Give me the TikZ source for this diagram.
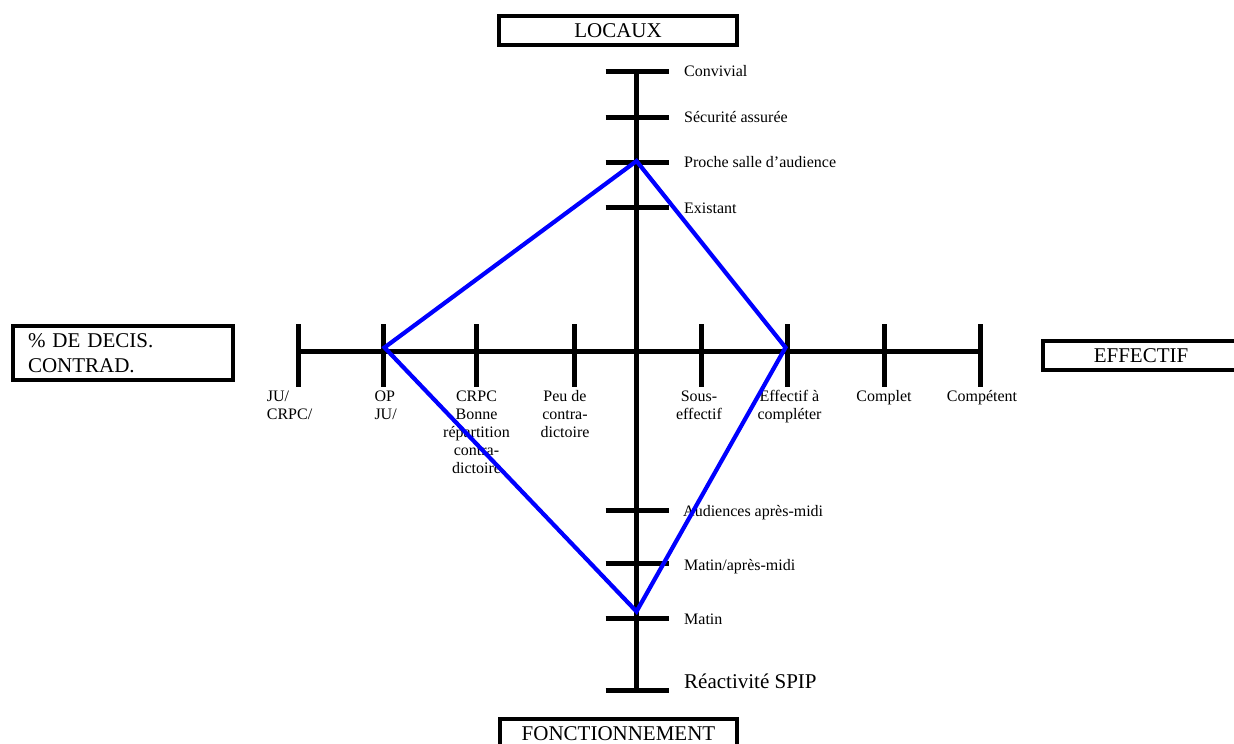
\documentclass[tikz,border=0pt]{standalone}
\usepackage{fontspec}
\setmainfont{Liberation Serif}
\newcommand\lblfont{\fontsize{16}{17.8}\selectfont}
\newcommand\bigfont{\fontsize{21}{25.6}\selectfont}
\begin{document}
\begin{tikzpicture}[x=1pt,y=-1pt,
  axis/.style={line width=5pt},
  tick/.style={line width=5pt},
  profile/.style={draw={rgb,255:red,0;green,0;blue,255},line width=4.2pt,line join=miter},
  titlebox/.style={draw,line width=4pt,inner sep=0pt,font=\bigfont},
  hlbl/.style={anchor=north,inner sep=0pt,align=center,font=\lblfont},
  hlbll/.style={anchor=north west,inner sep=0pt,align=left,font=\lblfont},
  vlbl/.style={anchor=base west,inner sep=0pt,font=\lblfont},
]
\useasboundingbox (0,0) rectangle (1234,744);
\clip (0,0) rectangle (1234,744);

% axes
\coordinate (vtop) at (636.5,71);
\coordinate (vbot) at (636.5,690);
\coordinate (hl) at (298.3,351.7);
\coordinate (hr) at (980.5,351.7);
\draw[axis] (vtop) -- (vbot);
\draw[axis] (hl) -- (hr);

% ticks on vertical axis
\foreach \n/\y in {t1/71,t2/117,t3/162,t4/207,b1/510,b2/563,b3/618,b4/690}{
  \coordinate (\n l) at (605.5,\y);
  \coordinate (\n r) at (668.5,\y);
  \draw[tick] (\n l) -- (\n r);
}
% ticks on horizontal axis
\foreach \n/\x in {h1/298.3,h2/383.3,h3/476.7,h4/574,h5/701.7,h6/787.7,h7/884,h8/980.5}{
  \coordinate (\n u) at (\x,324);
  \coordinate (\n d) at (\x,387);
  \draw[tick] (\n u) -- (\n d);
}

% vertical labels
\node[vlbl] (conv) at (684,76) {Convivial};
\node[vlbl] (secu) at (684,122) {Sécurité assurée};
\node[vlbl] (proc) at (684,167) {Proche salle d’audience};
\node[vlbl] (exis) at (684,213) {Existant};
\node[vlbl] (aud) at (683,516) {Audiences après-midi};
\node[vlbl] (mam) at (684,570) {Matin/après-midi};
\node[vlbl] (mat) at (684,624) {Matin};
\node[vlbl,font=\bigfont] (spip) at (684,688) {Réactivité SPIP};

% horizontal labels
\node[hlbll] (ju) at (266.7,389.2) {\strut JU/\\CRPC/};
\node[hlbll] (op) at (374.3,389.2) {\strut OP\\JU/};
\node[hlbl] (crpc) at (476.5,389.2) {\strut CRPC\\Bonne\\répartition\\contra-\\dictoire};
\node[hlbl] (peu) at (565,389.2) {\strut Peu de\\contra-\\dictoire};
\node[hlbl] (sous) at (699,389.2) {\strut Sous-\\effectif};
\node[hlbl] (effc) at (789.5,389.2) {\strut Effectif à\\compléter};
\node[hlbl] (comp) at (884,389.2) {\strut Complet};
\node[hlbl] (compt) at (982,389.2) {\strut Compétent};

% title boxes
\node[titlebox,minimum width=238pt,minimum height=29pt] (locaux) at (618,30.5) {LOCAUX};
\node[titlebox,minimum width=220pt,minimum height=54pt,text width=190pt,inner xsep=15pt,align=left] (pct) at (123,353) {\% DE DECIS.\\CONTRAD.};
\node[titlebox,minimum width=196pt,minimum height=29pt] (effectif) at (1141,355.5) {EFFECTIF};
\node[titlebox,minimum width=237pt,minimum height=29pt] (fonct) at (618.5,733.5) {FONCTIONNEMENT};

% profile
\coordinate (pt) at (636.5,161);
\coordinate (pl) at (384.5,347.5);
\coordinate (pr) at (785.5,347.5);
\coordinate (pb) at (636.5,611.5);
\draw[profile] (pt) -- (pr) -- (pb) -- (pl) -- cycle;
\end{tikzpicture}
\end{document}
